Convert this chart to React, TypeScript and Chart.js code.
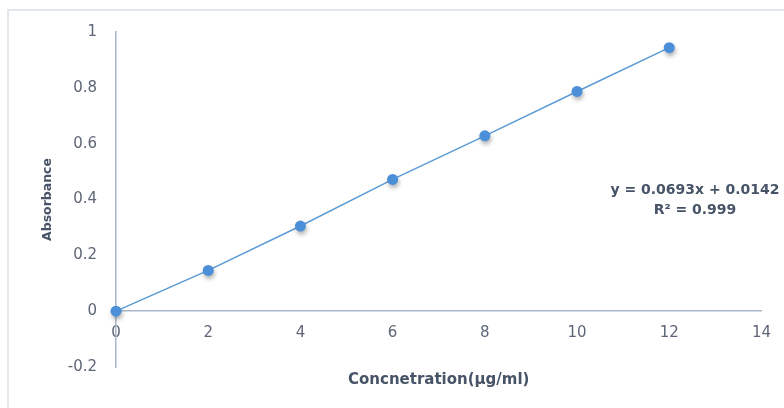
import React, { useEffect, useRef } from "react";
import { Chart, registerables } from "chart.js";

Chart.register(...registerables);

const concentration = [0, 2, 4, 6, 8, 10, 12];
const absorbance = [0, 0.146, 0.305, 0.472, 0.628, 0.787, 0.944];
const xTicks = [0, 2, 4, 6, 8, 10, 12, 14];
const yTicks = [-0.2, 0, 0.2, 0.4, 0.6, 0.8, 1];
const equationLines = ["y = 0.0693x + 0.0142", "R\u00b2 = 0.999"];
const xTitle = "Concnetration(\u00b5g/ml)";
const yTitle = "Absorbance";

const TICK_FONT = "'DejaVu Sans', sans-serif";
const TITLE_FONT = "'DejaVu Sans', sans-serif";
const TICK_COLOR = "#5e6677";
const TITLE_COLOR = "#475467";
const AXIS_COLOR = "#aab7ca";

const shadowPlugin = {
  id: "markerShadow",
  beforeDatasetDraw(chart: any, args: any) {
    if (args.index === 0) {
      const ctx = chart.ctx;
      ctx.save();
      ctx.shadowColor = "rgba(0,0,0,0.3)";
      ctx.shadowBlur = 4;
      ctx.shadowOffsetX = 1;
      ctx.shadowOffsetY = 3;
    }
  },
  afterDatasetDraw(chart: any, args: any) {
    if (args.index === 0) chart.ctx.restore();
  },
};

export default function App() {
  const ref = useRef<HTMLCanvasElement | null>(null);

  useEffect(() => {
    if (!ref.current) return;
    const pts = concentration.map((x, i) => ({ x, y: absorbance[i] }));
    const chart = new Chart(ref.current, {
      type: "scatter",
      data: {
        datasets: [
          {
            data: pts,
            showLine: false,
            pointRadius: 5.5,
            pointBackgroundColor: "#4a8fd8",
            pointBorderColor: "#4a8fd8",
            pointBorderWidth: 0,
            clip: false,
          } as any,
          {
            data: pts,
            showLine: true,
            borderColor: "#5b9bd5",
            borderWidth: 1.5,
            pointRadius: 0,
            clip: false,
          } as any,
        ],
      },
      plugins: [shadowPlugin],
      options: {
        animation: false,
        responsive: true,
        maintainAspectRatio: false,
        layout: { padding: { top: 32, right: 22, bottom: 0, left: 35 } },
        plugins: { legend: { display: false }, tooltip: { enabled: false } },
        scales: {
          x: {
            type: "linear",
            position: { y: 0 } as any,
            min: xTicks[0],
            max: xTicks[xTicks.length - 1],
            afterBuildTicks: (s: any) => {
              s.ticks = xTicks.map((v) => ({ value: v }));
            },
            grid: { display: false, drawTicks: false },
            border: { display: true, color: AXIS_COLOR, width: 1.5 },
            ticks: {
              padding: 13,
              color: TICK_COLOR,
              font: { family: TICK_FONT, size: 15 },
              callback: (v: any) => String(v),
            },
          },
          x2: {
            type: "linear",
            axis: "x",
            position: "bottom",
            grid: { display: false, drawTicks: false },
            border: { display: false },
            ticks: { display: false },
            afterFit: (s: any) => {
              s.height = 41;
            },
            title: {
              display: true,
              text: xTitle,
              color: TITLE_COLOR,
              font: { family: TITLE_FONT, size: 15, weight: "bold" },
              padding: { top: 4, bottom: 19 },
            },
          } as any,
          y: {
            type: "linear",
            position: "left",
            min: yTicks[0],
            max: yTicks[yTicks.length - 1],
            afterBuildTicks: (s: any) => {
              s.ticks = yTicks.map((v) => ({ value: v }));
            },
            afterFit: (s: any) => {
              s.width = 81;
            },
            grid: { display: false, drawTicks: false },
            border: { display: true, color: AXIS_COLOR, width: 1.5 },
            ticks: {
              padding: 19,
              color: TICK_COLOR,
              font: { family: TICK_FONT, size: 15 },
              callback: (v: any) => String(Math.round(Number(v) * 10) / 10),
            },
            title: {
              display: true,
              text: yTitle,
              color: TITLE_COLOR,
              font: { family: TITLE_FONT, size: 12.5, weight: "bold" },
              padding: { top: 5, bottom: 4 },
            },
          },
        },
      } as any,
    });
    return () => chart.destroy();
  }, []);

  return (
    <div style={{ position: "absolute", left: 0, top: 0, width: 784, height: 408, background: "#fff", overflow: "hidden" }}>
      <div
        style={{
          position: "absolute",
          left: 7,
          top: 9,
          right: -4,
          bottom: -4,
          borderLeft: "2px solid #e2e6ed",
          borderTop: "2px solid #e2e6ed",
        }}
      />
      <canvas ref={ref} style={{ position: "absolute", left: 0, top: 0 }} />
      <div
        style={{
          position: "absolute",
          left: 595,
          top: 179,
          width: 200,
          textAlign: "center",
          lineHeight: "20px",
          fontFamily: TITLE_FONT,
          fontWeight: "bold",
          fontSize: 14,
          color: TITLE_COLOR,
          whiteSpace: "nowrap",
        }}
      >
        {equationLines.map((l) => (
          <div key={l}>{l}</div>
        ))}
      </div>
    </div>
  );
}
